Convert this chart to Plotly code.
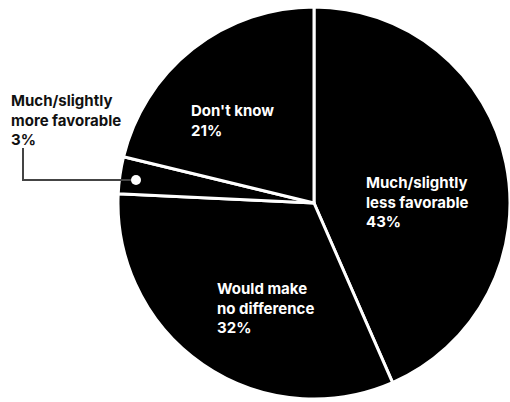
import plotly.graph_objects as go

categories = ["Much/slightly less favorable", "Would make no difference",
              "Much/slightly more favorable", "Don't know"]
values = [43, 32, 3, 21]
label_lines = [["Much/slightly", "less favorable"], ["Would make", "no difference"],
               ["Much/slightly", "more favorable"], ["Don't know"]]

W, H = 510, 402
fig = go.Figure(go.Pie(
    labels=categories, values=values, sort=False, direction="clockwise", rotation=0,
    marker=dict(colors=["#000000"] * 4, line=dict(color="#ffffff", width=3)),
    textinfo="none", hoverinfo="skip", showlegend=False,
    domain=dict(x=[118 / W, 1.0], y=[2 / H, 396 / H]),
))

FONT = "Inter"
# label anchor positions in pixels (left, top)
pos = [(364, 171, "white"), (215, 277, "white"), (9, 89, "#111111"), (189, 99, "white")]
for (x, y, col), lines, v in zip(pos, label_lines, values):
    txt = "<br>".join(lines + [f"{v}%"])
    fig.add_annotation(x=x / W, y=1 - y / H, xref="paper", yref="paper",
                       xanchor="left", yanchor="top", align="left", showarrow=False,
                       text=txt, font=dict(family=FONT, size=15, color=col, weight=700))

# leader line for small slice
fig.add_shape(type="path", xref="paper", yref="paper",
              path=f"M {23/W},{1-148/H} L {23/W},{1-180/H} L {131/W},{1-180/H}",
              line=dict(color="#444444", width=2))
fig.add_shape(type="circle", xref="paper", yref="paper",
              x0=131 / W, x1=141 / W, y0=1 - 185 / H, y1=1 - 175 / H,
              fillcolor="white", line=dict(color="white", width=0))

fig.update_layout(width=W, height=H, margin=dict(l=0, r=0, t=0, b=0),
                  paper_bgcolor="white", plot_bgcolor="white")
fig.write_html("out.html")
